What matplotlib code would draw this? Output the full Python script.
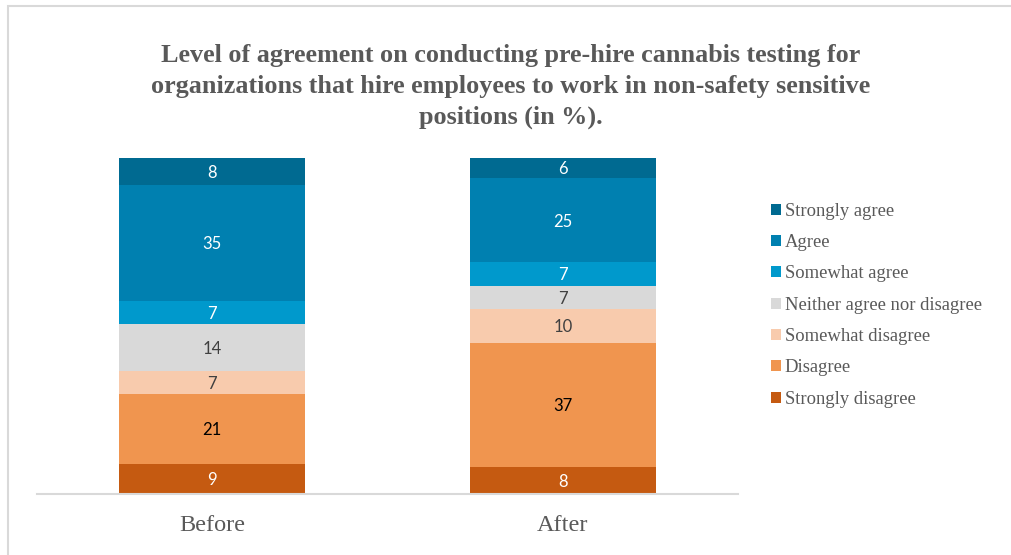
import matplotlib
matplotlib.use("Agg")
import matplotlib.pyplot as plt
from matplotlib.patches import Rectangle, Patch
import numpy as np

categories = ["Before", "After"]
series_names = ["Strongly disagree", "Disagree", "Somewhat disagree",
                "Neither agree nor disagree", "Somewhat agree", "Agree", "Strongly agree"]
strongly_disagree = [9, 8]
disagree = [21, 37]
somewhat_disagree = [7, 10]
neither = [14, 7]
somewhat_agree = [7, 7]
agree = [35, 25]
strongly_agree = [8, 6]
title = ("Level of agreement on conducting pre-hire cannabis testing for\n"
         "organizations that hire employees to work in non-safety sensitive\n"
         "positions (in %).")

series = [strongly_disagree, disagree, somewhat_disagree, neither,
          somewhat_agree, agree, strongly_agree]
colors = ["#C55A11", "#F0954F", "#F8CBAD", "#D9D9D9", "#0099CC", "#0080B0", "#006A91"]
label_colors = ["white", "black", "#404040", "#404040", "white", "white", "white"]

fig = plt.figure(figsize=(10.11, 5.55), dpi=100)
ax = fig.add_axes([37/1011, 1-494/555, (738-37)/1011, (494-158)/555])

data = np.array(series, dtype=float)
totals = data.sum(axis=0)
pct = data / totals * 100
x = np.arange(len(categories))
bottom = np.zeros(len(categories))
for i, name in enumerate(series_names):
    ax.bar(x, pct[i], width=0.53, bottom=bottom, color=colors[i],
           edgecolor="none", label=name, zorder=2)
    for j in range(len(categories)):
        ax.text(x[j], bottom[j] + pct[i][j] / 2 - 0.4, f"{int(data[i][j])}",
                ha="center", va="center", color=label_colors[i],
                fontsize=12, family="Lato", zorder=3)
    bottom += pct[i]

ax.set_xlim(-0.5, 1.5)
ax.set_ylim(0, 100)
ax.set_yticks([])
ax.set_xticks(x)
ax.set_xticklabels(categories, family="Liberation Serif", fontsize=17.5, color="#595959")
ax.tick_params(axis="x", length=0, pad=15)
for s in ["top", "right", "left"]:
    ax.spines[s].set_visible(False)
ax.spines["bottom"].set_color("#D9D9D9")
ax.spines["bottom"].set_linewidth(1.5)

fig.text(511/1011, 1-86.5/555, title, ha="center", va="center",
         family="Liberation Serif", fontweight="bold", fontsize=18.8,
         color="#595959", linespacing=1.45)

handles = [Patch(facecolor=colors[i], edgecolor="none") for i in range(len(series_names))][::-1]
labels = series_names[::-1]
leg = fig.legend(handles, labels, loc="upper left",
                 bbox_to_anchor=(754/1011, 1-186/555), frameon=False,
                 prop={"family": "Liberation Serif", "size": 13.4},
                 labelcolor="#595959", handlelength=0.55, handleheight=0.55,
                 handletextpad=0.2, labelspacing=0.77)

fig.patches.append(Rectangle((7.5/1011, -0.1), 1.2, 1 - 5.5/555 + 0.1,
                             transform=fig.transFigure, fill=False,
                             edgecolor="#D9D9D9", linewidth=1.5))

fig.savefig("out.png", dpi=100)
